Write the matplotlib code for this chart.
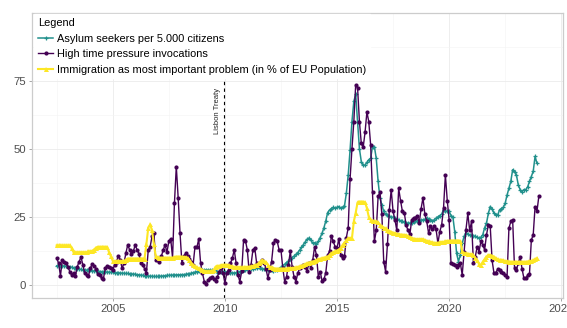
import numpy as np
import matplotlib
matplotlib.use("Agg")
import matplotlib.pyplot as plt
from matplotlib.ticker import MultipleLocator

plt.rcParams['font.family'] = ['Liberation Sans', 'DejaVu Sans']

# monthly series, first value = July 2002
start_year = 2002.5

# asylum seekers per 5.000 citizens (Jul 2002 - Dec 2023)
asylum = [
    7.0, 7.0, 7.0, 7.0, 6.9, 6.8,                                   # 2002
    6.7, 6.6, 6.5, 6.3, 6.1, 5.9, 5.8, 5.7, 5.6, 5.5, 5.4, 5.4,     # 2003
    5.3, 5.2, 5.1, 5.0, 5.0, 4.9, 4.9, 4.8, 4.8, 4.7, 4.7, 4.6,     # 2004
    4.6, 4.5, 4.5, 4.4, 4.4, 4.3, 4.3, 4.2, 4.2, 4.1, 4.0, 4.0,     # 2005
    3.9, 3.8, 3.7, 3.6, 3.5, 3.4, 3.3, 3.3, 3.2, 3.2, 3.1, 3.1,     # 2006
    3.1, 3.2, 3.2, 3.3, 3.4, 3.5, 3.5, 3.6, 3.6, 3.6, 3.7, 3.7,     # 2007
    3.7, 3.8, 3.8, 3.9, 4.0, 4.1, 4.3, 4.5, 4.7, 4.9, 5.1, 5.3,     # 2008
    5.4, 5.5, 5.5, 5.5, 5.4, 5.3, 5.1, 5.0, 4.9, 4.9, 4.9, 4.9,     # 2009
    4.8, 4.7, 4.6, 4.5, 4.4, 4.4, 4.5, 4.7, 4.9, 5.1, 5.4, 5.6,     # 2010
    5.7, 5.8, 5.9, 6.0, 6.1, 6.3, 6.4, 6.3, 6.0, 5.8, 5.6, 5.5,     # 2011
    5.4, 5.3, 5.2, 5.3, 5.6, 6.0, 6.5, 7.0, 7.6, 8.2, 8.8, 9.4,     # 2012
    10.0, 10.6, 11.2, 11.9, 12.8, 13.8, 14.8, 15.8, 16.8, 17.2, 16.5, 15.3,  # 2013
    15.5, 15.0, 16.0, 17.4, 19.0, 21.0, 23.5, 26.6, 27.5, 28.0, 28.5, 28.2,  # 2014
    28.5, 28.8, 28.2, 28.5, 29.0, 33.7, 40.4, 49.6, 60.0, 67.4, 70.0, 60.0,  # 2015
    50.0, 45.3, 44.0, 44.0, 45.0, 46.0, 46.5, 50.8, 50.8, 46.5, 38.0, 31.9,  # 2016
    29.5, 27.0, 26.0, 25.7, 25.3, 25.0, 24.8, 24.5, 24.2, 24.0, 23.5, 23.3,  # 2017
    23.0, 22.8, 22.7, 22.7, 22.9, 23.1, 23.3, 23.5, 23.6, 23.8, 23.9, 24.1,  # 2018
    24.5, 24.3, 24.0, 23.5, 23.9, 24.5, 25.0, 25.5, 26.0, 27.6, 27.0, 27.0,  # 2019
    27.0, 25.5, 25.0, 19.6, 11.6, 8.6, 11.0, 15.3, 17.8, 19.0, 18.6, 18.4,   # 2020
    18.2, 17.8, 17.8, 17.5, 17.2, 17.5, 18.4, 21.0, 22.7, 26.3, 28.8, 28.0,  # 2021
    26.3, 25.7, 25.7, 27.6, 28.0, 28.5, 30.0, 33.0, 35.5, 38.0, 42.3, 41.5,  # 2022
    40.4, 36.8, 35.0, 34.3, 35.0, 35.0, 36.0, 38.0, 39.8, 41.7, 47.2, 44.7,  # 2023
]

# high time pressure invocations (Jul 2002 - Jan 2024)
pressure = [
    9.8, 8.0, 3.3, 9.2, 8.5, 8.0,                                   # 2002
    6.7, 4.9, 3.7, 4.5, 3.3, 6.7, 8.6, 10.2, 7.4, 4.3, 3.7, 3.3,    # 2003
    6.1, 7.7, 7.0, 6.0, 4.0, 3.7, 2.5, 2.3, 6.1, 7.0, 6.5, 6.1,     # 2004
    5.5, 7.4, 8.6, 10.7, 9.2, 6.1, 8.0, 11.6, 14.7, 12.9, 11.5, 12.3,  # 2005
    14.7, 12.9, 11.5, 8.0, 7.4, 6.0, 4.5, 12.9, 14.0, 17.8, 19.0, 9.2,  # 2006
    9.2, 8.5, 10.5, 12.9, 14.7, 12.0, 16.0, 17.0, 10.0, 30.0, 43.5, 32.0,  # 2007
    19.0, 8.0, 10.5, 11.6, 10.5, 9.5, 8.5, 7.4, 14.0, 13.8, 16.8, 8.0,  # 2008
    4.3, 1.2, 0.5, 1.8, 2.5, 3.0, 2.0, 1.5, 3.0, 4.9, 6.1, 4.5,     # 2009
    0.6, 4.5, 5.5, 8.0, 9.8, 12.9, 8.0, 3.7, 1.2, 5.0, 16.5, 16.2,  # 2010
    12.9, 4.9, 7.4, 12.9, 13.5, 8.0, 7.5, 8.0, 9.2, 8.0, 6.0, 2.5,  # 2011
    5.5, 8.6, 15.3, 16.5, 16.0, 12.9, 12.9, 6.1, 1.2, 3.0, 7.4, 12.3,  # 2012
    6.7, 3.0, 1.2, 4.3, 6.1, 6.7, 7.4, 6.4, 5.1, 8.0, 6.1, 9.0,     # 2013
    14.0, 11.0, 3.0, 4.9, 1.5, 2.0, 4.5, 11.0, 12.3, 18.0, 16.0, 14.0,  # 2014
    13.5, 17.0, 11.0, 9.8, 10.5, 17.4, 21.0, 39.0, 50.0, 60.0, 73.5, 72.5,  # 2015
    60.0, 52.0, 50.5, 56.0, 63.5, 60.0, 51.5, 34.0, 16.0, 20.0, 32.5, 34.0,  # 2016
    26.0, 8.6, 4.9, 15.0, 27.6, 35.0, 27.0, 24.0, 20.0, 35.5, 31.0, 27.0,  # 2017
    26.5, 22.0, 20.0, 18.6, 24.0, 24.7, 24.7, 25.4, 22.7, 28.0, 32.0, 26.0,  # 2018
    23.5, 19.0, 21.5, 20.5, 21.5, 20.5, 15.3, 19.6, 22.0, 28.2, 40.4, 31.0,  # 2019
    24.0, 8.0, 7.6, 7.4, 6.7, 7.5, 8.0, 3.7, 12.0, 20.2, 26.3, 20.0,  # 2020
    23.3, 8.0, 10.4, 14.0, 12.2, 16.0, 14.7, 12.9, 18.4, 22.0, 21.5, 9.0,  # 2021
    4.3, 4.5, 5.8, 5.5, 4.8, 4.3, 3.5, 3.0, 20.8, 23.3, 23.9, 6.1,  # 2022
    5.5, 8.0, 10.4, 6.0, 2.5, 2.5, 3.5, 4.0, 16.5, 18.4, 28.8, 27.0,  # 2023
    32.5,                                                           # 2024
]

# immigration as most important problem, % of EU population (Jul 2002 - Dec 2023)
immigration = [
    14.5, 14.5, 14.5, 14.5, 14.5, 14.5,                             # 2002
    14.5, 14.5, 13.5, 12.0, 12.0, 12.0, 12.0, 12.0, 12.0, 12.0, 12.0, 12.3,  # 2003
    12.3, 12.5, 13.0, 13.7, 14.0, 14.0, 14.0, 14.0, 14.0, 14.0, 12.0, 10.5,  # 2004
    8.8, 8.8, 8.8, 8.8, 8.8, 8.8, 8.8, 9.2, 9.7, 9.7, 9.7, 9.7,     # 2005
    9.7, 9.7, 9.7, 9.7, 9.7, 9.7, 15.0, 21.0, 22.2, 20.0, 15.0, 10.6,  # 2006
    10.2, 10.0, 10.0, 10.0, 10.0, 10.0, 10.0, 10.0, 10.0, 10.2, 10.4, 10.4,  # 2007
    10.4, 10.4, 10.3, 10.2, 10.0, 9.2, 8.2, 7.4, 7.0, 6.4, 6.1, 5.8,  # 2008
    5.5, 5.2, 5.0, 5.0, 5.0, 5.2, 5.5, 6.7, 7.0, 7.0, 7.2, 7.4,     # 2009
    7.4, 7.4, 7.2, 7.0, 6.8, 6.6, 6.5, 6.5, 6.5, 6.4, 6.4, 6.5,     # 2010
    6.6, 6.7, 6.8, 7.0, 7.2, 7.4, 8.0, 8.6, 9.2, 8.8, 8.4, 7.4,     # 2011
    6.7, 6.4, 6.2, 6.0, 6.0, 6.0, 6.0, 6.0, 6.0, 6.0, 6.1, 6.2,     # 2012
    6.2, 6.3, 6.4, 6.6, 6.8, 7.0, 7.3, 7.6, 8.0, 8.2, 8.4, 8.6,     # 2013
    8.8, 9.1, 9.4, 9.6, 9.8, 10.0, 10.2, 10.4, 11.0, 11.6, 12.0, 12.3,  # 2014
    12.6, 13.0, 13.6, 14.7, 15.5, 16.4, 17.2, 17.2, 17.2, 23.3, 26.5, 30.3,  # 2015
    30.6, 30.6, 30.6, 30.3, 28.2, 25.0, 23.9, 23.6, 23.3, 23.3, 23.0, 22.0,  # 2016
    21.5, 21.0, 20.8, 20.3, 19.8, 19.5, 19.2, 19.0, 18.8, 18.6, 18.5, 18.4,  # 2017
    18.4, 18.2, 18.0, 17.6, 17.2, 17.0, 16.8, 16.8, 16.8, 16.8, 16.8, 16.5,  # 2018
    16.2, 16.0, 15.8, 15.6, 15.5, 15.4, 15.5, 15.6, 15.8, 15.8, 16.0, 16.2,  # 2019
    16.2, 16.3, 16.3, 16.3, 16.3, 16.3, 16.2, 12.3, 11.6, 11.6, 11.5, 11.3,  # 2020
    11.3, 11.0, 10.0, 9.2, 7.6, 7.4, 8.5, 9.5, 10.4, 11.0, 11.0, 10.7,  # 2021
    10.4, 9.8, 9.4, 9.2, 9.2, 9.0, 8.8, 8.7, 8.6, 8.5, 8.5, 8.5,    # 2022
    8.5, 8.5, 8.5, 8.5, 8.5, 8.5, 8.6, 8.7, 8.8, 9.0, 9.5, 9.8,     # 2023
]

lisbon = 2009.95
labels = ['Asylum seekers per 5.000 citizens',
          'High time pressure invocations',
          'Immigration as most important problem (in % of EU Population)']
colors = ['#21908C', '#440154', '#FDE725']


def months(series):
    return start_year + np.arange(len(series)) / 12


fig = plt.figure(figsize=(5.67, 3.28), dpi=100)
ax = fig.add_axes([0.0573, 0.0915, 0.9365, 0.8698])

# grid like theme_bw
ax.xaxis.set_major_locator(MultipleLocator(5))
ax.xaxis.set_minor_locator(MultipleLocator(2.5))
ax.yaxis.set_major_locator(MultipleLocator(25))
ax.yaxis.set_minor_locator(MultipleLocator(12.5))
ax.grid(which='major', color='#EBEBEB', lw=0.6, zorder=0)
ax.grid(which='minor', color='#F4F4F4', lw=0.4, zorder=0)

ax.plot(months(asylum), asylum, color=colors[0], lw=1.1, marker='+',
        ms=3.2, mew=0.9, label=labels[0], zorder=3)
ax.plot(months(pressure), pressure, color=colors[1], lw=1.0, marker='o',
        ms=3.0, mew=0, label=labels[1], zorder=4)
ax.plot(months(immigration), immigration, color=colors[2], lw=1.5, marker='^',
        ms=3.6, mew=0, label=labels[2], zorder=5)

ax.axvline(lisbon, color='black', lw=0.8, ls=(0, (3, 3)), zorder=2)
ax.text(lisbon - 0.12, 64, 'Lisbon Treaty', rotation=90, ha='right', va='center',
        fontsize=5.5, color='#222222')

ax.set_xlim(2001.42, 2025.1)
ax.set_ylim(-4.8, 100)
ax.set_xticks([2005, 2010, 2015, 2020, 2025])
ax.set_yticks([0, 25, 50, 75])

for s in ax.spines.values():
    s.set_color('#CCCCCC')
    s.set_linewidth(0.9)
ax.tick_params(which='major', length=2.5, width=0.6, color='#999999',
               labelsize=8.2, labelcolor='#4D4D4D', pad=2)
ax.tick_params(which='minor', length=0)

leg = ax.legend(title='Legend', loc='upper left', bbox_to_anchor=(0.0, 1.0),
                fontsize=7.9, title_fontsize=7.9, frameon=True, fancybox=False,
                edgecolor='white', facecolor='white', framealpha=1,
                borderaxespad=0.15, borderpad=0.35, labelspacing=0.5,
                handlelength=1.4, handletextpad=0.3, alignment='left')
leg.set_zorder(10)

fig.savefig('out.png', dpi=100)
